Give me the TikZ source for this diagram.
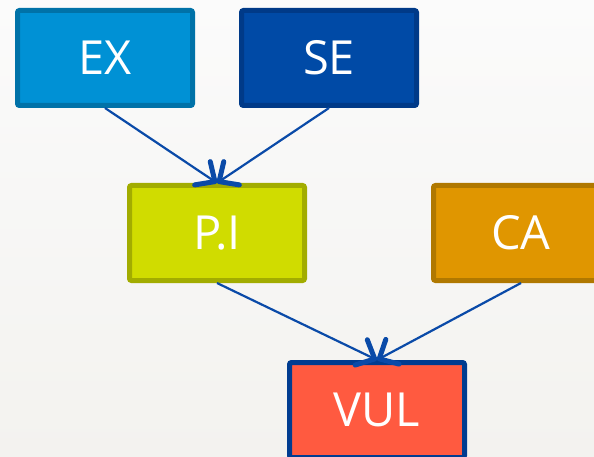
\documentclass[tikz,border=0pt]{standalone}
\usepackage{fontspec}
\setmainfont{Open Sans}
\usetikzlibrary{arrows.meta}
\definecolor{bgtop}{HTML}{FBFBFB}
\definecolor{bgbot}{HTML}{F3F2EF}
\definecolor{exfill}{HTML}{0091D5}
\definecolor{exline}{HTML}{0072A8}
\definecolor{sefill}{HTML}{004AA6}
\definecolor{seline}{HTML}{003A88}
\definecolor{pifill}{HTML}{D0DC00}
\definecolor{piline}{HTML}{A2AC00}
\definecolor{cafill}{HTML}{E09600}
\definecolor{caline}{HTML}{B07800}
\definecolor{vulfill}{HTML}{FF5A40}
\definecolor{vulline}{HTML}{003C90}
\definecolor{linkblue}{HTML}{0A4AA8}
\begin{document}
\begin{tikzpicture}[x=1pt,y=-1pt,
  box/.style={draw,line width=5pt,rounded corners=2pt,minimum width=175pt,
    minimum height=95pt,text=white,font=\fontsize{47}{50}\selectfont},
  link/.style={draw=linkblue,line width=2.2pt,
    -{Straight Barb[length=15pt,width=28pt,line width'=5pt,round]}}]
\useasboundingbox (0,0) rectangle (594,457);
\shade[top color=bgtop,bottom color=bgbot] (0,0) rectangle (594,457);
\clip (0,0) rectangle (594,457);
% boxes
\node[box,fill=exfill,draw=exline] (ex) at (105,58) {EX};
\node[box,fill=sefill,draw=seline] (se) at (329,58) {SE};
\node[box,fill=pifill,draw=piline] (pi) at (217,233) {P.I};
\node[box,fill=cafill,draw=caline] (ca) at (521,233) {CA};
\node[box,fill=vulfill,draw=vulline] (vul) at (377,410) {VUL};
% links
\draw[link] (ex.south) -- (pi.north);
\draw[link] (se.south) -- (pi.north);
\draw[link] (pi.south) -- (vul.north);
\draw[link] (ca.south) -- (vul.north);
\end{tikzpicture}
\end{document}
